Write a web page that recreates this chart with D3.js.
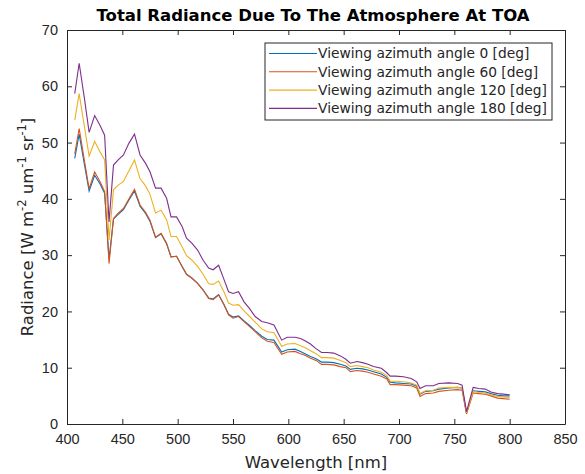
<!DOCTYPE html>
<html>
<head>
<meta charset="utf-8">
<script src="https://cdn.jsdelivr.net/npm/d3@7"></script>
<style>
  body { margin: 0; background: #fff; }
  svg { display: block; font-family: "DejaVu Sans", sans-serif; }
  .axis path, .axis line { stroke: #262626; }
  .axis text { fill: #262626; font-size: 14.5px; }
</style>
</head>
<body>
<script>
// wavelength samples [nm]
var wavelengths = [407, 411, 416, 420, 425, 430, 434, 438, 442, 446,
  451, 456, 461, 466, 471, 475, 480, 485, 490, 494,
  499, 504, 508, 513, 518, 523, 528, 532, 537, 542,
  546, 550, 555, 560, 565, 570, 576, 581, 587, 594,
  599, 606, 611, 615, 620, 625, 630, 635, 641, 647,
  652, 656, 662, 667, 672, 677, 684, 689, 692, 697,
  704, 711, 716, 719, 724, 731, 736, 745, 753, 757,
  761, 767, 772, 778, 783, 789, 794, 800];

// radiance per viewing azimuth angle
var az0 = [47.2, 51.5, 45.8, 41.4, 44.2, 42.6, 41.0, 29.3, 36.4, 37.2,
  38.1, 39.8, 41.4, 38.7, 37.4, 36.0, 33.1, 33.8, 32.0, 29.7,
  29.8, 28.0, 26.6, 25.9, 25.0, 23.8, 22.4, 22.2, 23.0, 21.2,
  19.5, 19.0, 19.2, 18.3, 17.5, 16.6, 15.6, 15.0, 14.9, 12.8,
  13.2, 13.3, 12.9, 12.5, 12.0, 11.6, 11.0, 11.0, 10.9, 10.6,
  10.3, 9.7, 9.9, 9.8, 9.6, 9.3, 8.9, 8.3, 7.4, 7.3,
  7.2, 7.1, 6.7, 5.3, 5.8, 5.9, 6.2, 6.4, 6.5, 6.4,
  1.9, 5.9, 5.8, 5.7, 5.4, 5.1, 5.0, 5.0];

var az60 = [48.0, 52.5, 46.5, 41.8, 44.8, 43.0, 41.3, 28.5, 36.5, 37.4,
  38.3, 40.0, 41.7, 38.9, 37.6, 36.2, 33.2, 33.9, 32.1, 29.7,
  29.8, 28.0, 26.6, 25.9, 25.0, 23.8, 22.3, 22.1, 22.9, 21.1,
  19.4, 18.8, 19.1, 18.2, 17.3, 16.4, 15.3, 14.7, 14.5, 12.4,
  12.8, 12.9, 12.5, 12.2, 11.7, 11.3, 10.6, 10.6, 10.5, 10.2,
  10.0, 9.3, 9.5, 9.4, 9.2, 8.9, 8.5, 8.0, 7.0, 7.0,
  6.9, 6.8, 6.4, 4.9, 5.4, 5.5, 5.8, 6.0, 6.1, 6.0,
  1.8, 5.5, 5.4, 5.3, 5.0, 4.6, 4.5, 4.4];

var az120 = [54.0, 58.7, 52.5, 47.6, 50.2, 48.3, 46.9, 32.7, 41.6, 42.4,
  43.1, 45.0, 46.9, 43.6, 42.3, 40.8, 37.5, 38.0, 36.3, 33.3,
  33.3, 31.5, 29.9, 29.1, 28.0, 26.6, 24.9, 24.8, 25.4, 23.4,
  21.5, 21.1, 21.2, 20.1, 19.1, 18.1, 16.9, 16.4, 16.2, 13.8,
  14.2, 14.3, 13.9, 13.6, 13.0, 12.5, 11.8, 11.8, 11.7, 11.3,
  10.9, 10.2, 10.4, 10.2, 10.0, 9.6, 9.2, 8.6, 7.6, 7.6,
  7.5, 7.3, 6.9, 5.4, 5.9, 6.0, 6.4, 6.5, 6.5, 6.4,
  2.0, 5.8, 5.6, 5.5, 5.2, 4.9, 4.8, 4.7];

var az180 = [58.7, 64.1, 57.5, 51.8, 54.8, 53.0, 51.3, 35.9, 46.0, 46.9,
  47.8, 49.9, 51.5, 47.8, 46.3, 44.8, 41.9, 41.9, 40.1, 36.8,
  36.8, 35.1, 33.0, 32.1, 30.9, 29.1, 27.7, 27.4, 28.2, 25.6,
  23.5, 23.2, 23.5, 21.7, 20.5, 19.1, 18.2, 18.0, 17.6, 14.9,
  15.4, 15.4, 15.2, 14.8, 14.2, 13.4, 12.7, 12.7, 12.6, 12.1,
  11.5, 10.8, 11.1, 10.9, 10.6, 10.2, 9.9, 9.1, 8.5, 8.5,
  8.4, 8.1, 7.5, 6.3, 6.8, 6.8, 7.2, 7.3, 7.2, 6.9,
  2.2, 6.5, 6.3, 6.2, 5.7, 5.4, 5.3, 5.2];

var seriesNames = ["Viewing azimuth angle 0 [deg]", "Viewing azimuth angle 60 [deg]",
  "Viewing azimuth angle 120 [deg]", "Viewing azimuth angle 180 [deg]"];
var seriesValues = [az0, az60, az120, az180];
var colors = ["#0072BD", "#D95319", "#EDB120", "#7E2F8E"];

var xTicks = [400, 450, 500, 550, 600, 650, 700, 750, 800, 850];
var yTicks = [0, 10, 20, 30, 40, 50, 60, 70];

var W = 585, H = 474;
var m = {left: 67, right: 20, top: 30, bottom: 50};
var pw = W - m.left - m.right, ph = H - m.top - m.bottom;

var svg = d3.select("body").append("svg")
    .attr("width", W)
    .attr("height", H);

var x = d3.scaleLinear().domain([400, 850]).range([m.left, m.left + pw]);
var y = d3.scaleLinear().domain([0, 70]).range([m.top + ph, m.top]);

var tickLen = 5;

// axes (ticks inward, box on all four sides)
svg.append("g").attr("class", "axis")
    .attr("transform", "translate(0," + (m.top + ph) + ")")
    .call(d3.axisBottom(x).tickValues(xTicks).tickSizeInner(-tickLen).tickSizeOuter(0).tickPadding(10))
    .call(function (g) { g.selectAll("text").attr("dy", "0.71em"); });

svg.append("g").attr("class", "axis")
    .attr("transform", "translate(" + m.left + ",0)")
    .call(d3.axisLeft(y).tickValues(yTicks).tickSizeInner(-tickLen).tickSizeOuter(0).tickPadding(9));

svg.append("g").attr("class", "axis")
    .attr("transform", "translate(0," + m.top + ")")
    .call(d3.axisTop(x).tickValues(xTicks).tickSizeInner(-tickLen).tickSizeOuter(0).tickFormat(""));

svg.append("g").attr("class", "axis")
    .attr("transform", "translate(" + (m.left + pw) + ",0)")
    .call(d3.axisRight(y).tickValues(yTicks).tickSizeInner(-tickLen).tickSizeOuter(0).tickFormat(""));

// lines
var line = d3.line()
    .x(function (d, i) { return x(wavelengths[i]); })
    .y(function (d) { return y(d); });

svg.append("g").selectAll("path.series")
    .data(seriesValues)
    .enter()
    .append("path")
    .attr("class", "series")
    .attr("fill", "none")
    .attr("stroke", function (d, i) { return colors[i]; })
    .attr("stroke-width", 1.1)
    .attr("d", line);

// title and labels
svg.append("text")
    .attr("x", m.left + pw / 2 - 3)
    .attr("y", 21)
    .attr("text-anchor", "middle")
    .attr("font-size", "16.5px")
    .attr("font-weight", "bold")
    .attr("fill", "#000")
    .text("Total Radiance Due To The Atmosphere At TOA");

svg.append("text")
    .attr("x", m.left + pw / 2)
    .attr("y", 468)
    .attr("text-anchor", "middle")
    .attr("font-size", "16.5px")
    .attr("fill", "#262626")
    .text("Wavelength [nm]");

var yl = svg.append("text")
    .attr("transform", "translate(33," + (m.top + ph / 2) + ") rotate(-90)")
    .attr("text-anchor", "middle")
    .attr("font-size", "16.5px")
    .attr("fill", "#262626");
yl.append("tspan").text("Radiance [W m");
yl.append("tspan").attr("dy", -7).attr("font-size", "11.5px").text("-2");
yl.append("tspan").attr("dy", 7).text(" um");
yl.append("tspan").attr("dy", -7).attr("font-size", "11.5px").text("-1");
yl.append("tspan").attr("dy", 7).text(" sr");
yl.append("tspan").attr("dy", -7).attr("font-size", "11.5px").text("-1");
yl.append("tspan").attr("dy", 7).text("]");

// legend
var lg = svg.append("g").attr("transform", "translate(265,43)");
lg.append("rect")
    .attr("width", 287)
    .attr("height", 77)
    .attr("fill", "#fff")
    .attr("stroke", "#262626")
    .attr("stroke-width", 1);

var rows = lg.selectAll("g.row")
    .data(seriesNames)
    .enter()
    .append("g")
    .attr("class", "row")
    .attr("transform", function (d, i) { return "translate(0," + (10.5 + i * 18.3) + ")"; });

rows.append("line")
    .attr("x1", 4).attr("x2", 52)
    .attr("y1", 0).attr("y2", 0)
    .attr("stroke", function (d, i) { return colors[i]; })
    .attr("stroke-width", 1.1);

rows.append("text")
    .attr("x", 53)
    .attr("dy", "0.35em")
    .attr("font-size", "13.8px")
    .attr("fill", "#262626")
    .text(function (d) { return d; });
</script>
</body>
</html>
